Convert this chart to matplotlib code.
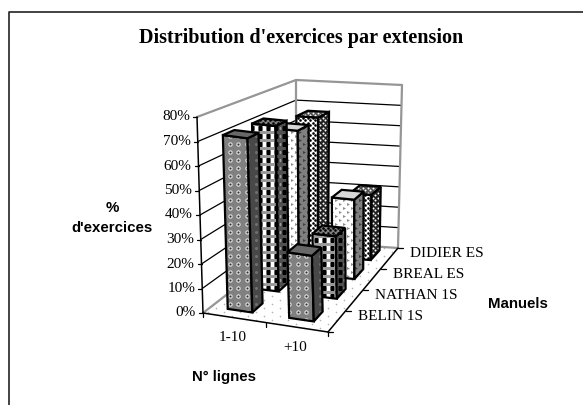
import numpy as np
import matplotlib
matplotlib.use('Agg')
import matplotlib.pyplot as plt
from matplotlib.patches import Polygon

TITLE = "Distribution d'exercices par extension"
CATEGORIES = ['1-10', '+10']
SERIES = ['BELIN 1S', 'NATHAN 1S', 'BREAL ES', 'DIDIER ES']
VALUES_1_10 = [72, 72, 65, 66]
VALUES_PLUS_10 = [27, 27, 36, 31]
TICKS = [0, 10, 20, 30, 40, 50, 60, 70, 80]
ZMAX = 80.0

# corners of the 3d box on the page: [x, y, z] -> pixel
BOX = {(0, 0, 0): (203, 313), (1, 0, 0): (328, 332),
       (0, 1, 0): (296, 241), (1, 1, 0): (398, 248),
       (0, 0, 1): (197, 117), (1, 0, 1): (322, 134),
       (0, 1, 1): (296, 80), (1, 1, 1): (402, 85)}
SERIES_SHIFT_Y = [0, 0.03, 0.02, 0]
SERIES_SHIFT_X = [0, 0.02, 0.02, 0.015]


def proj(x, y, z):
    p = np.zeros(2)
    for (i, j, k), c in BOX.items():
        w = (x if i else 1 - x) * (y if j else 1 - y) * (z if k else 1 - z)
        p += w * np.array(c, dtype=float)
    return tuple(p)


# texture layers: marker, size px, colour, step x, step y, offset x, offset y
RINGS = [('o', 4.5, '#d8d8d8', 8.5, 8, 0, 0), ('o', 2, '#303030', 8.5, 8, 0, 0)]
RINGS_DARK = [('o', 3, '#707070', 8, 8, 0, 0)]
CHECK = [('s', 4.5, 'white', 8, 8, 0, 0), ('s', 4, 'black', 8, 8, 4, 0)]
CHECK_DARK = [('s', 2.5, '#999999', 8, 8, 0, 0), ('s', 4, 'black', 8, 8, 4, 0)]
CHEVRON = [('>', 3, '#909090', 8, 8, 0, 0), ('>', 3, '#909090', 8, 8, 4, 4)]
CHEVRON_DARK = [('>', 3, '#404040', 8, 8, 0, 0), ('>', 3, '#404040', 8, 8, 4, 4)]
SPECK = [('o', 2.6, 'black', 5, 5, 0, 0), ('o', 2.6, 'black', 5, 5, 2.5, 2.5)]
SPECK_DARK = [('o', 2, 'white', 5, 5, 0, 0), ('o', 2, 'white', 5, 5, 2.5, 2.5)]
FLOOR = [('o', 1.6, '#b4b4b4', 16, 8, 0, 0), ('o', 1.6, '#b4b4b4', 16, 8, 8, 4)]

# face colour and texture per series: front, side, top
STYLES = [
    [('#808080', RINGS), ('#484848', RINGS_DARK), ('#686868', [])],
    [('#9a9a9a', CHECK), ('#505050', CHECK_DARK), ('#808080', SPECK)],
    [('#ffffff', CHEVRON), ('#808080', CHEVRON_DARK), ('#d8d8d8', [])],
    [('#ffffff', SPECK), ('#202020', SPECK_DARK), ('#505050', SPECK_DARK)],
]

fig = plt.figure(figsize=(5.83, 4.05), dpi=100)
ax = fig.add_axes([0, 0, 1, 1])
ax.set_xlim(0, 583)
ax.set_ylim(405, 0)
ax.axis('off')

plt.rcParams['font.family'] = 'Liberation Serif'


def face(pts, fc, texture, lw=1.6, z=2):
    patch = Polygon(pts, closed=True, facecolor=fc, edgecolor='none', zorder=z)
    ax.add_patch(patch)
    a = np.array(pts)
    for m, size, color, sx, sy, ox, oy in texture:
        xs = np.arange(np.floor(a[:, 0].min() / sx) * sx + ox, a[:, 0].max() + sx, sx)
        ys = np.arange(np.floor(a[:, 1].min() / sy) * sy + oy, a[:, 1].max() + sy, sy)
        gx, gy = np.meshgrid(xs, ys)
        l, = ax.plot(gx.ravel(), gy.ravel(), ls='none', marker=m, ms=size * 0.72,
                     mfc=color, mec='none', zorder=z)
        l.set_clip_path(patch)
    if lw:
        ax.add_patch(Polygon(pts, closed=True, fill=False, edgecolor='black', lw=lw, zorder=z))


def line(a, b, color='black', lw=0.9):
    ax.plot([a[0], b[0]], [a[1], b[1]], color=color, lw=lw, solid_capstyle='round', zorder=1)


# outer frame, only top and left show
ax.plot([9, 9, 583], [405, 12, 12], color='#222222', lw=1.2)

# floor
face([proj(0, 0, 0), proj(1, 0, 0), proj(1, 1, 0), proj(0, 1, 0)], 'white', FLOOR, lw=0, z=0)

# gridlines on the walls
for t in TICKS[1:-1]:
    z = t / ZMAX
    line(proj(0, 0, z), proj(0, 1, z))
    line(proj(0, 1, z), proj(1, 1, z))
    line(proj(0, 0, z), (proj(0, 0, z)[0] - 4, proj(0, 0, z)[1]))

# grey wall outline
GREY = '#969696'
line(proj(0, 0, 1), proj(0, 1, 1), GREY, 1.6)
line(proj(0, 1, 1), proj(1, 1, 1), GREY, 1.6)
line(proj(0, 1, 0), proj(0, 1, 1), GREY, 1.6)
line(proj(1, 1, 0), proj(1, 1, 1), GREY, 1.6)
line(proj(0, 0, 0), proj(0, 1, 0), GREY, 1.6)
line(proj(0, 1, 0), proj(1, 1, 0), GREY, 1.6)

# black axes
line(proj(0, 0, 0), proj(0, 0, 1), 'black', 1.1)
line(proj(0, 0, 0), proj(1, 0, 0), 'black', 1.1)
line(proj(1, 0, 0), proj(1, 1, 0), 'black', 1.1)
line(proj(0, 0, 1), (proj(0, 0, 1)[0] - 4, proj(0, 0, 1)[1]))
line(proj(0, 0, 0), (proj(0, 0, 0)[0] - 4, proj(0, 0, 0)[1]))
for i in range(3):
    p = proj(i / 2, 0, 0)
    line(p, (p[0], p[1] + 4))
for j in range(5):
    p = proj(1, j / 4, 0)
    line(p, (p[0] + 5, p[1]))

# bars, back to front
for s in range(len(SERIES) - 1, -1, -1):
    for c, vals in enumerate([VALUES_1_10, VALUES_PLUS_10]):
        x0 = 0.133 + 0.5 * c + SERIES_SHIFT_X[s]
        x1 = x0 + 0.2
        y0 = 0.09 + 0.25 * s + SERIES_SHIFT_Y[s]
        y1 = y0 + 0.12
        z = vals[s] / ZMAX
        st = STYLES[s]
        face([proj(x0, y0, 0), proj(x1, y0, 0), proj(x1, y0, z), proj(x0, y0, z)], st[0][0], st[0][1], z=3)
        face([proj(x1, y0, 0), proj(x1, y1, 0), proj(x1, y1, z), proj(x1, y0, z)], st[1][0], st[1][1], z=3)
        face([proj(x0, y0, z), proj(x1, y0, z), proj(x1, y1, z), proj(x0, y1, z)], st[2][0], st[2][1], z=3)

# tick labels
for t in TICKS:
    p = proj(0, 0, t / ZMAX)
    ax.text(p[0] - 7, p[1], '%d%%' % t, ha='right', va='center', fontsize=11)
for i, name in enumerate(CATEGORIES):
    p = proj(i / 2 + 0.25, 0, 0)
    ax.text(p[0] - 1.5, p[1] + 20, name, ha='center', va='center', fontsize=11)
for j, name in enumerate(SERIES):
    p = proj(1, j / 4 + 0.125, 0)
    ax.text(p[0] + 21, p[1] - 5, name, ha='left', va='center', fontsize=11)

ax.text(301, 38, TITLE, ha='center', va='center', fontsize=14.5, fontweight='bold')
sans = 'Liberation Sans'
ax.text(112, 208, '%', ha='center', va='center', fontsize=10.8, fontweight='bold', family=sans)
ax.text(112, 228, "d'exercices", ha='center', va='center', fontsize=10.8, fontweight='bold', family=sans)
ax.text(224, 377, 'N° lignes', ha='center', va='center', fontsize=10.8, fontweight='bold', family=sans)
ax.text(517.5, 304, 'Manuels', ha='center', va='center', fontsize=10.8, fontweight='bold', family=sans)

fig.savefig('out.png', dpi=100)
